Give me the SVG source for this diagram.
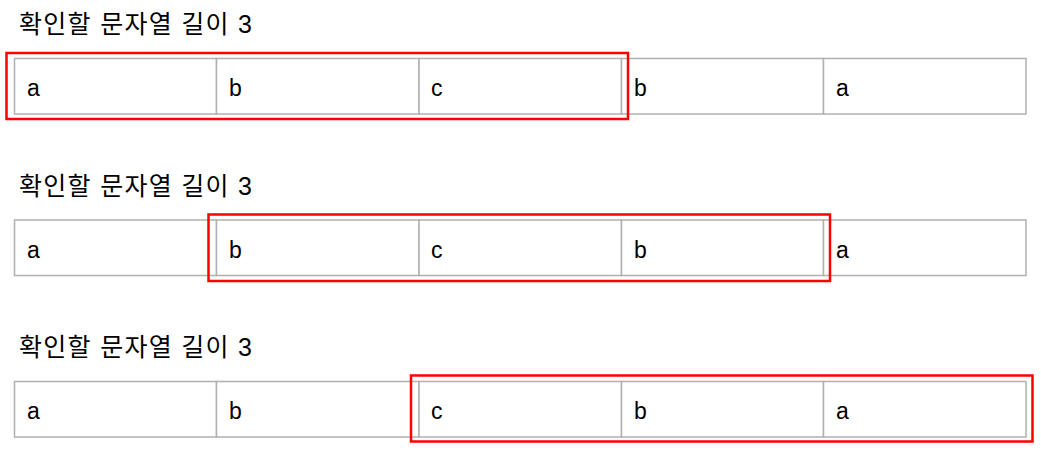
<svg xmlns="http://www.w3.org/2000/svg" width="1041" height="451" viewBox="0 0 1041 451">
<style>
.title{font-family:"Liberation Sans","Noto Sans CJK KR",sans-serif;font-size:25px;fill:#000}
.cell{fill:#fff;stroke:#b0b0b0;stroke-width:1.5}
.lbl{font-family:"Liberation Sans",Arial,sans-serif;font-size:23px;fill:#000}
.hl{fill:none;stroke:#ff0000;stroke-width:2.5}
</style>
<rect width="1041" height="451" fill="#fff"/>
<g id="row1">
<text class="title" x="19" y="33" textLength="233" lengthAdjust="spacing">확인할 문자열 길이 3</text>
<g id="r1c1"><rect class="cell" x="14.5" y="58.5" width="202" height="55.5"/><text class="lbl" x="27" y="96">a</text></g>
<g id="r1c2"><rect class="cell" x="216.5" y="58.5" width="202.5" height="55.5"/><text class="lbl" x="229" y="96">b</text></g>
<g id="r1c3"><rect class="cell" x="419" y="58.5" width="202.5" height="55.5"/><text class="lbl" x="431" y="96">c</text></g>
<g id="r1c4"><rect class="cell" x="621.5" y="58.5" width="202" height="55.5"/><text class="lbl" x="634" y="96">b</text></g>
<g id="r1c5"><rect class="cell" x="823.5" y="58.5" width="202.5" height="55.5"/><text class="lbl" x="836" y="96">a</text></g>
</g>
<g id="row2">
<text class="title" x="19" y="194.5" textLength="233" lengthAdjust="spacing">확인할 문자열 길이 3</text>
<g id="r2c1"><rect class="cell" x="14.5" y="220" width="202" height="55.5"/><text class="lbl" x="27" y="257.5">a</text></g>
<g id="r2c2"><rect class="cell" x="216.5" y="220" width="202.5" height="55.5"/><text class="lbl" x="229" y="257.5">b</text></g>
<g id="r2c3"><rect class="cell" x="419" y="220" width="202.5" height="55.5"/><text class="lbl" x="431" y="257.5">c</text></g>
<g id="r2c4"><rect class="cell" x="621.5" y="220" width="202" height="55.5"/><text class="lbl" x="634" y="257.5">b</text></g>
<g id="r2c5"><rect class="cell" x="823.5" y="220" width="202.5" height="55.5"/><text class="lbl" x="836" y="257.5">a</text></g>
</g>
<g id="row3">
<text class="title" x="19" y="356" textLength="233" lengthAdjust="spacing">확인할 문자열 길이 3</text>
<g id="r3c1"><rect class="cell" x="14.5" y="381.5" width="202" height="55.5"/><text class="lbl" x="27" y="419">a</text></g>
<g id="r3c2"><rect class="cell" x="216.5" y="381.5" width="202.5" height="55.5"/><text class="lbl" x="229" y="419">b</text></g>
<g id="r3c3"><rect class="cell" x="419" y="381.5" width="202.5" height="55.5"/><text class="lbl" x="431" y="419">c</text></g>
<g id="r3c4"><rect class="cell" x="621.5" y="381.5" width="202" height="55.5"/><text class="lbl" x="634" y="419">b</text></g>
<g id="r3c5"><rect class="cell" x="823.5" y="381.5" width="202.5" height="55.5"/><text class="lbl" x="836" y="419">a</text></g>
</g>
<g id="highlights">
<rect class="hl" x="6.5" y="53" width="621.5" height="66"/>
<rect class="hl" x="208.5" y="214.5" width="621.5" height="66.5"/>
<rect class="hl" x="411" y="375.5" width="621.5" height="66"/>
</g>
</svg>
